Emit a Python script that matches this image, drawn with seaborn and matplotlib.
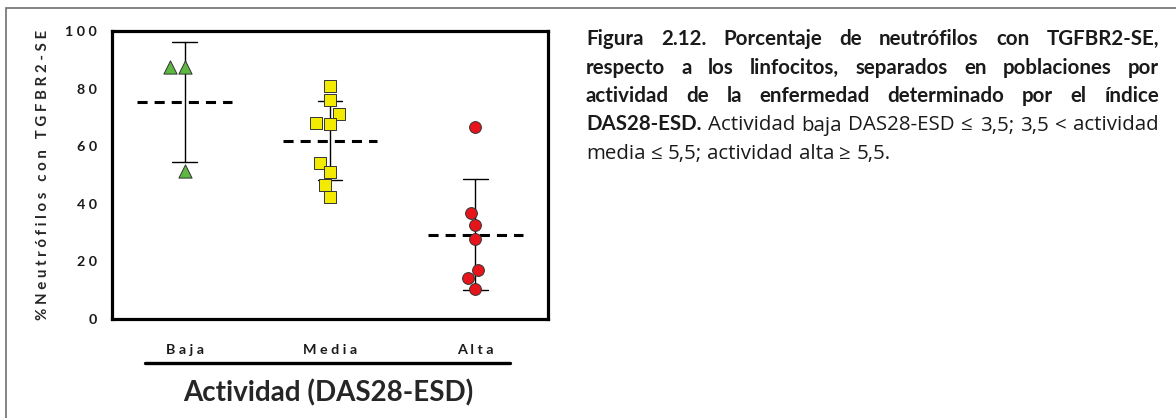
import matplotlib
matplotlib.use("Agg")
import matplotlib.pyplot as plt
import seaborn as sns
import pandas as pd
from matplotlib.patches import Rectangle
from matplotlib.lines import Line2D

# ---------------- data ----------------
categories = ["Baja", "Media", "Alta"]
baja_values = [87.5, 87.5, 51.4]
media_values = [80.9, 76.2, 71.1, 67.6, 67.9, 54.1, 51.0, 46.5, 42.2]
alta_values = [66.7, 36.7, 32.5, 27.7, 17.0, 14.1, 10.4]
x_tick_labels = ["B a j a", "M e d i a", "A l t a"]
y_ticks = [0, 20, 40, 60, 80, 100]
y_label = "% N e u t r ó f i l o s   c o n   T G F B R 2 - S E"
x_label = "Actividad (DAS28-ESD)"
caption_lines = [
    ([("Figura 2.12. Porcentaje de neutrófilos con TGFBR2-SE,", "bold")], True),
    ([("respecto a los linfocitos, separados en poblaciones por", "bold")], True),
    ([("actividad de la enfermedad determinado por el índice", "bold")], True),
    ([("DAS28-ESD.", "bold"),
      ("Actividad baja DAS28-ESD ≤ 3,5; 3,5 < actividad", "normal")], True),
    ([("media ≤ 5,5; actividad alta ≥ 5,5.", "normal")], False),
]

markers = {"Baja": "^", "Media": "s", "Alta": "o"}
marker_sizes = {"Baja": 9.5, "Media": 8.8, "Alta": 8.5}
colors = {"Baja": "#5DB83F", "Media": "#F2EA00", "Alta": "#E8141C"}

df = pd.DataFrame({
    "actividad": (["Baja"] * len(baja_values) + ["Media"] * len(media_values)
                  + ["Alta"] * len(alta_values)),
    "valor": baja_values + media_values + alta_values,
})

# ---------------- style ----------------
sns.set_style("white")
plt.rcParams["font.family"] = ["Lato", "DejaVu Sans"]
plt.rcParams["text.color"] = "#1a1a1a"
caption_families = {"bold": ["Lato", "DejaVu Sans"],
                    "normal": ["Open Sans", "DejaVu Sans"]}

W, H = 1176, 418
fig = plt.figure(figsize=(W / 100, H / 100), dpi=100)
ax = fig.add_axes([112 / W, 1 - 319 / H, 436 / W, 288 / H])

# points (swarm)
for cat in categories:
    sub = df[df["actividad"] == cat]
    sns.swarmplot(data=sub, x="actividad", y="valor", order=categories,
                  marker=markers[cat], color=colors[cat], size=marker_sizes[cat],
                  edgecolor="#333333", linewidth=0.7, ax=ax)

# mean lines (dashed)
sns.boxplot(data=df, x="actividad", y="valor", order=categories, width=0.65,
            showmeans=True, meanline=True,
            meanprops=dict(color="black", linestyle=(0, (3.3, 2.3)), linewidth=2.2),
            showcaps=False, showfliers=False, fill=False, linewidth=0,
            color="black", whis=0, ax=ax)

# mean +/- SD error bars
sns.pointplot(data=df, x="actividad", y="valor", order=categories,
              errorbar="sd", capsize=0.17, color="black", linestyle="none",
              marker="", err_kws={"linewidth": 1.0}, ax=ax)

ax.set_xlim(-0.5, 2.5)
ax.set_ylim(0, 100)
ax.set_xticks(range(len(categories)), x_tick_labels)
ax.set_yticks(y_ticks, [" ".join(str(v)) for v in y_ticks])
for sp in ax.spines.values():
    sp.set_visible(True)
    sp.set_linewidth(2.3)
    sp.set_color("black")
ax.tick_params(axis="both", direction="out", length=6, width=1.8,
               color="black", labelsize=10.3, labelcolor="#1a1a1a")
ax.tick_params(axis="x", pad=12)
ax.tick_params(axis="y", pad=5)
for lbl in ax.get_xticklabels() + ax.get_yticklabels():
    lbl.set_fontweight("bold")

ax.set_ylabel(y_label, fontsize=10.8, fontweight="bold")
ax.yaxis.set_label_coords(-0.142, 0.5)
ax.set_xlabel(x_label, fontsize=20, fontweight="bold")
ax.xaxis.set_label_coords((328 - 112) / 436, (319 - 401) / 288)
ax.xaxis.label.set_va("baseline")

# thick line under category labels
fig.add_artist(Line2D([145 / W, 510 / W], [1 - 363 / H, 1 - 363 / H],
                      transform=fig.transFigure, color="black", linewidth=2.4))

# outer frame (cut at the right and bottom)
fig.add_artist(Rectangle((6 / W, -0.1), 1.2, 1 - 8 / H + 0.1,
                         transform=fig.transFigure, fill=False,
                         edgecolor="#6e6e6e", linewidth=1.2))

# justified caption
fig.canvas.draw()
renderer = fig.canvas.get_renderer()
cap_left, cap_right = 586, 1159
baseline0, line_step = 45, 28.5


def _width(t):
    return t.get_window_extent(renderer).width


def _words(segments):
    out = []
    for text, weight in segments:
        for w in text.split(" "):
            out.append((w, weight))
    return out


def _space(size, weight="normal"):
    fam = caption_families[weight]
    p1 = fig.text(0, 0, "x x", fontsize=size, fontweight=weight, family=fam)
    p2 = fig.text(0, 0, "xx", fontsize=size, fontweight=weight, family=fam)
    s = _width(p1) - _width(p2)
    p1.remove()
    p2.remove()
    return s


def _natural(segments, size):
    ws = _words(segments)
    arts = [fig.text(0, 0, w, fontsize=size, fontweight=wt,
                     family=caption_families[wt]) for w, wt in ws]
    total = sum(_width(a) for a in arts) + _space(size) * (len(ws) - 1)
    for a in arts:
        a.remove()
    return total


# fit the font so that line 4 (normally spaced in the reference) fills the width
base = 12.0
cap_size = base * 562 / _natural(caption_lines[3][0], base)

for i, (segments, justify) in enumerate(caption_lines):
    words = _words(segments)
    y = 1 - (baseline0 + i * line_step) / H
    arts = [fig.text(0, y, w, fontsize=cap_size, fontweight=wt, va="baseline",
                     ha="left", color="#1a1a1a", family=caption_families[wt])
            for w, wt in words]
    widths = [_width(a) for a in arts]
    if justify and len(words) > 1:
        gap = (cap_right - cap_left - sum(widths)) / (len(words) - 1)
    else:
        gap = _space(cap_size)
    x = cap_left
    for a, w in zip(arts, widths):
        a.set_x(x / W)
        x += w + gap

fig.savefig("out.png", dpi=100)
